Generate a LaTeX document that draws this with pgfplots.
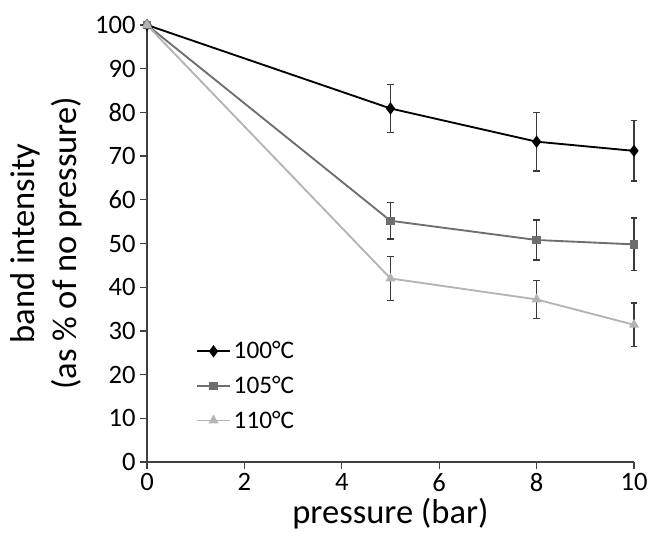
\documentclass[border=0pt]{standalone}
\usepackage{pgfplots}
\pgfplotsset{compat=1.18}
\usepackage{fontspec}
\setmainfont{Carlito}
\definecolor{cA}{HTML}{000000}
\definecolor{cB}{HTML}{6E6E6E}
\definecolor{cC}{HTML}{B4B4B4}
\definecolor{cE}{HTML}{3A3A3A}
\begin{document}
\begin{tikzpicture}
\useasboundingbox (-110.25bp,-53.25bp) rectangle (377.25bp,346.5bp);
\begin{axis}[
  scale only axis, width=365.25bp, height=327.75bp,
  at={(0,0)}, anchor=south west,
  xmin=0, xmax=10, ymin=0, ymax=100,
  xtick={0,2,4,6,8,10}, ytick={0,10,...,100},
  axis lines*=left, axis line style={draw=black!75, line width=1pt},
  tick style={draw=black!75, line width=1pt}, tick align=outside, major tick length=5bp,
  /pgf/number format/assume math mode=true,
  every tick label/.append style={font=\fontsize{20}{24}\selectfont},
  xticklabel style={yshift=0bp},
  yticklabel style={xshift=0bp},
  xlabel={pressure (bar)}, xlabel style={font=\fontsize{26}{30}\selectfont, yshift=2bp},
  ylabel={band intensity\\(as \% of no pressure)}, ylabel style={font=\fontsize{26}{32}\selectfont, align=center, yshift=3bp},
  clip=false,
  legend style={at={(0.1,0.282)}, anchor=north west, draw=none, fill=none, font=\fontsize{19}{22}\selectfont, row sep=7.5bp, inner sep=0pt},
  legend cell align=left,
  legend image code/.code={\draw[mark repeat=2,mark phase=2] plot coordinates {(0cm,0cm) (0.44cm,0cm) (0.88cm,0cm)};},
  error bars/y dir=both, error bars/y explicit,
  error bars/error bar style={draw=cE, line width=1pt},
  error bars/error mark options={rotate=90, draw=cE, mark size=2.5bp, line width=1pt},
]
\addplot[color=cA, line width=1.4pt, mark=diamond*, mark size=3.5bp, mark options={fill=cA}] coordinates {
 (0,100) +- (0,0)
 (5,80.9) +- (0,5.5)
 (8,73.3) +- (0,6.7)
 (10,71.2) +- (0,6.9)
};
\addlegendentry{100°C}
\addplot[color=cB, line width=1.4pt, mark=square*, mark size=2.5bp, mark options={fill=cB}] coordinates {
 (0,100) +- (0,0)
 (5,55.2) +- (0,4.2)
 (8,50.8) +- (0,4.6)
 (10,49.8) +- (0,6.0)
};
\addlegendentry{105°C}
\addplot[color=cC, line width=1.4pt, mark=triangle*, mark size=3bp, mark options={fill=cC}] coordinates {
 (0,100) +- (0,0)
 (5,42.0) +- (0,5.0)
 (8,37.2) +- (0,4.3)
 (10,31.4) +- (0,5.0)
};
\addlegendentry{110°C}
\end{axis}
\end{tikzpicture}
\end{document}
